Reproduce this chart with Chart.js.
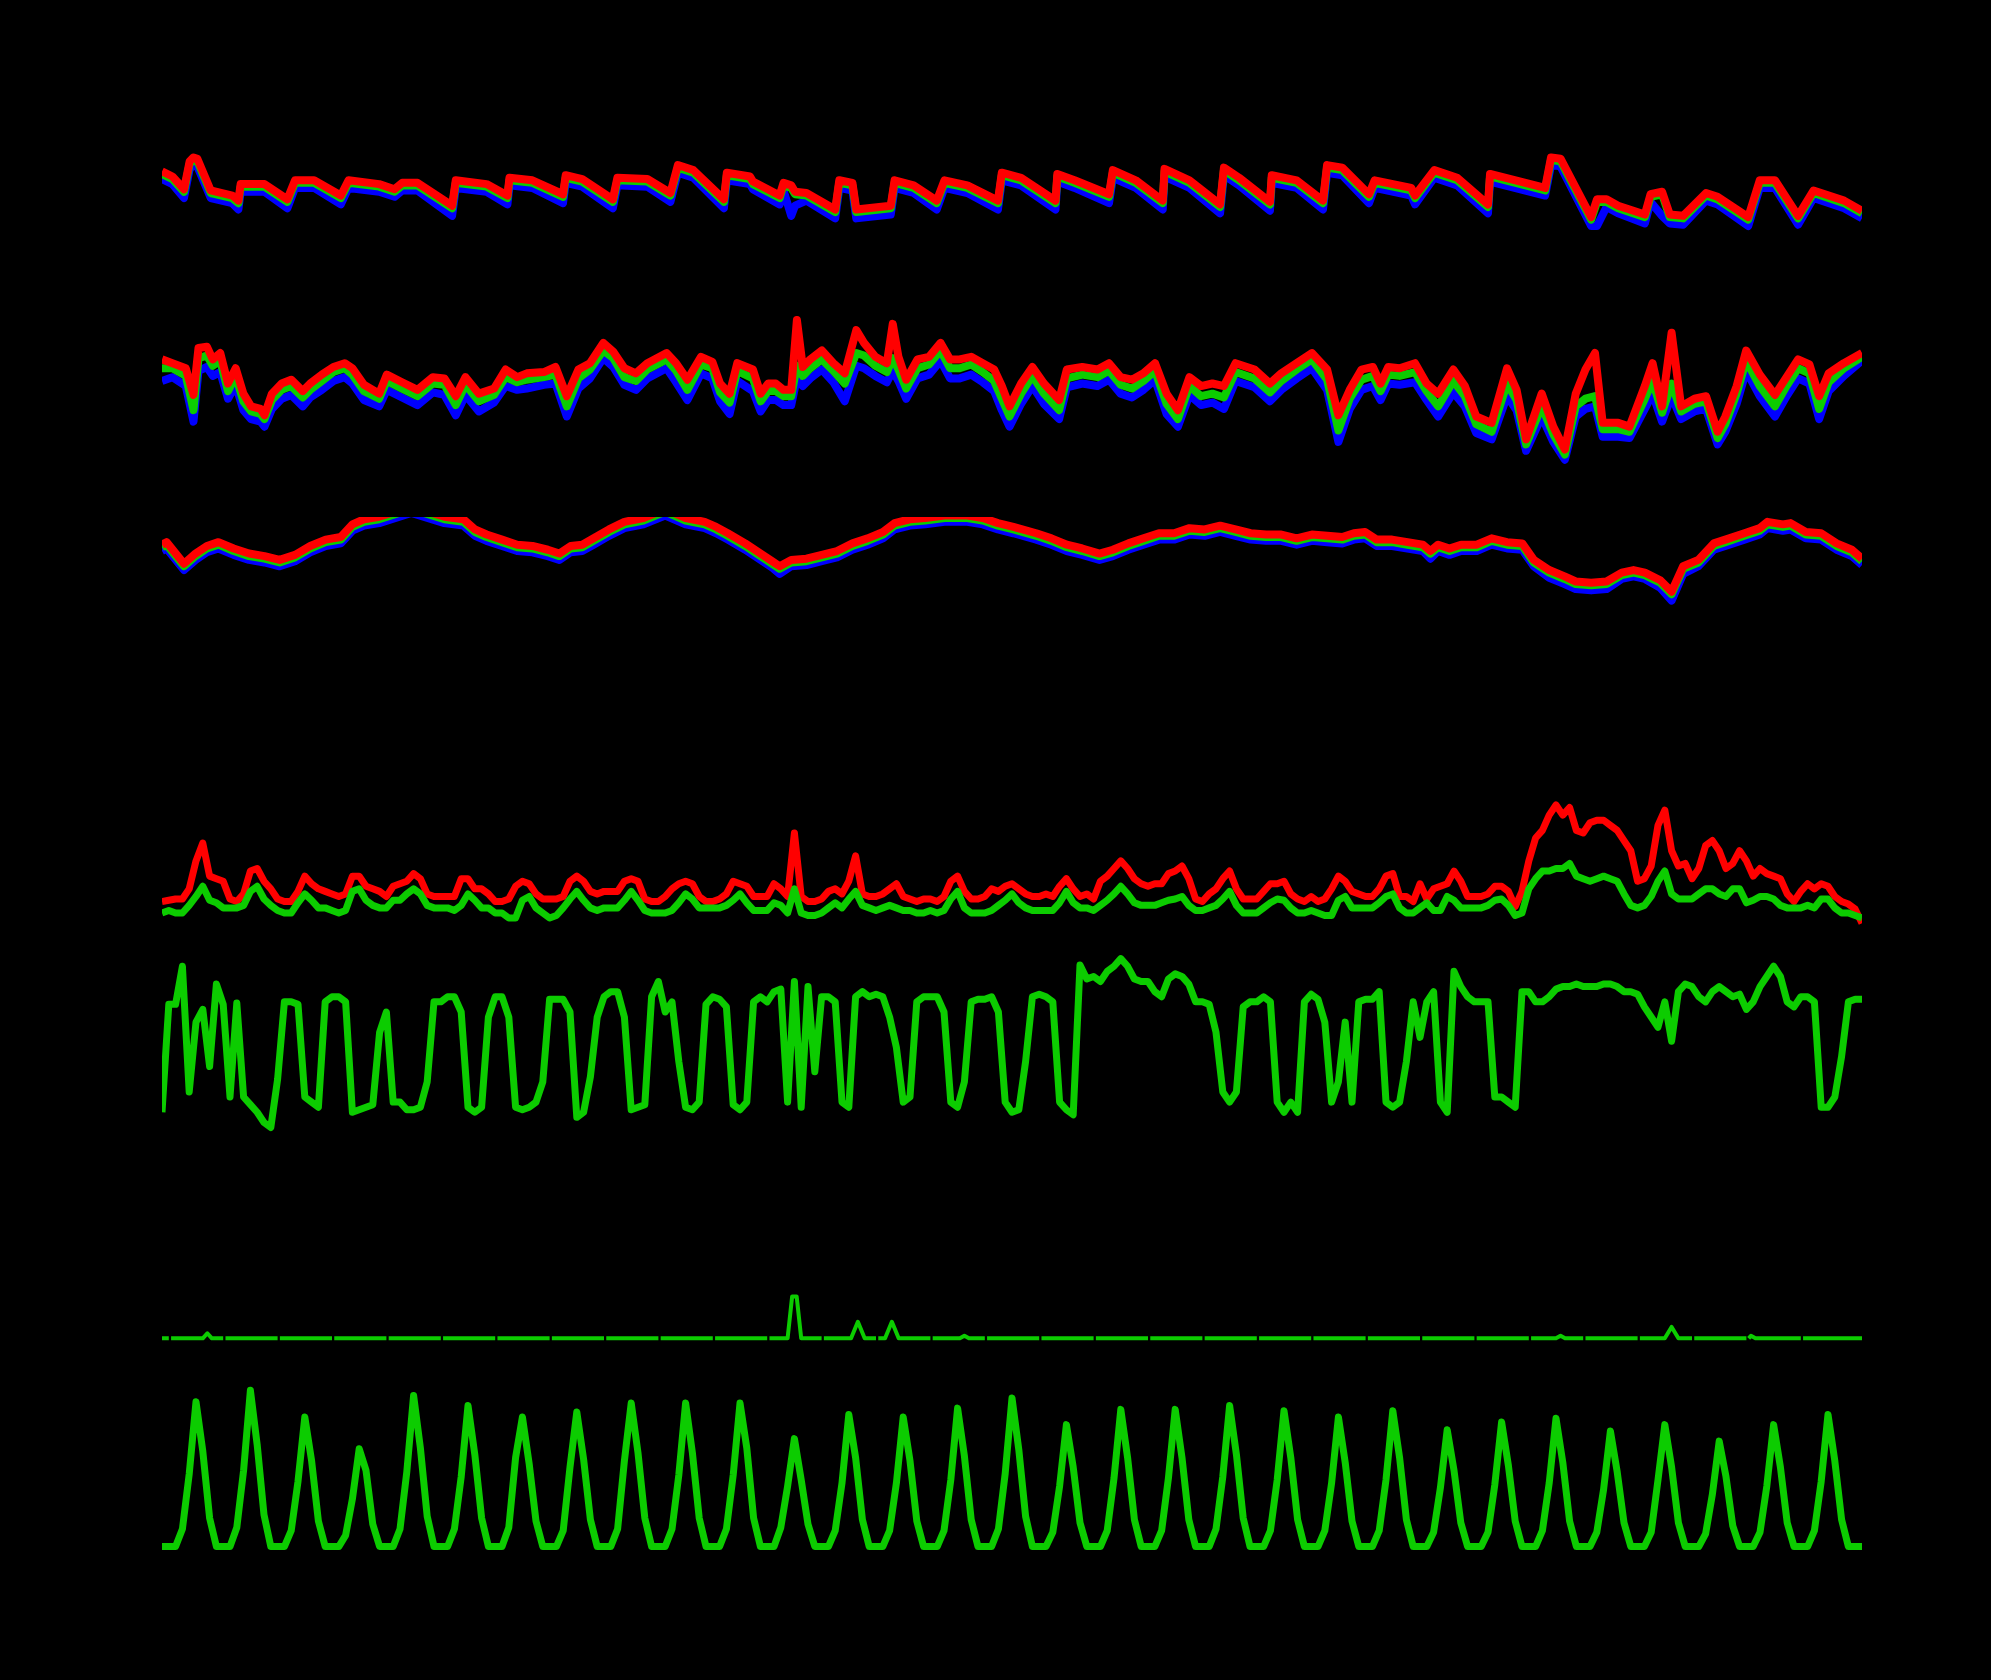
<!DOCTYPE html>
<html>
<head>
<meta charset="utf-8">
<title>Station record</title>
<script src="https://cdn.jsdelivr.net/npm/chart.js@4.4.0/dist/chart.umd.min.js"></script>
<style>
  html, body { margin: 0; padding: 0; background: #000; }
  #page { position: relative; width: 1991px; height: 1680px; background: #000; overflow: hidden; }
  #page canvas { position: absolute; }
</style>
</head>
<body>
<div id="page"></div>
<script>
/* ── Time axis (hours since start of record) ── */
const HOURS_SPAN = 750;
const hours3 = Array.from({ length: 251 }, (_, i) => i * 3);

/* ── Panel 1: three sensors, read at turning points ── */
const p1Hours = [
  0,4.6,9.7,12.2,13.9,15.6,21.5,31,33.7,34.7,45.2,55.3,58.7,67.1,78.9,82.3,95.8,102.6,106,112.7,
  128,129.6,143.2,152.4,153.3,163.4,176.9,178.1,185.4,198.9,200.9,214.1,224.3,227.6,234.4,247.9,249.2,259.4,
  260.7,272.5,274.2,277.6,279.3,284.3,297,298.8,304.6,306.3,321.5,323.2,331.6,341.8,345.2,355.3,368.8,370.5,379,394.2,
  395,402.6,417.8,419.5,429.6,441.5,442.3,453.3,466.8,468.5,475.2,488.8,489.6,500.6,
  512.2,514,520.7,532.5,535,551.1,552.8,561.3,571.4,585,585.9,610.2,612.8,617,630.5,633.1,637.3,642.4,654.2,656.7,
  661.8,665.2,671.1,681.2,686.3,699.8,704.9,711.6,721.8,728.6,742.1,750
];
const p1Red = [
  65,61,51,73,76,75,50,46,42,55,55,43,58,58,46,58,55,51,56,56,
  38,58,55,46,60,58,47,62,59,43,60,59,48,70,66,43,64,61,
  57,46,56,54,49,48,35,58,56,35,38,58,54,42,58,54,42,64,60,42,
  63,58,47,66,58,42,67,58,39,68,60,41,62,58,
  42,70,68,47,58,52,46,66,60,39,63,52,76,75,29,43,43,38,31,47,
  49,31,30,48,45,29,58,58,30,50,42,34
];
const p1Green = [
  63,59,49,71,74,73,48,44,40,53,53,41,56,56,44,56,53,49,54,54,
  36,56,53,44,58,56,45,60,57,41,58,57,46,68,64,41,62,59,
  55,44,54,52,47,46,33,56,54,33,36,56,52,40,56,52,40,62,58,40,
  61,56,45,64,56,40,65,56,37,66,58,39,60,56,
  40,68,66,45,56,50,44,64,58,37,61,50,74,73,27,41,41,36,29,45,
  47,29,28,46,43,27,56,56,28,48,40,32
];
const p1Blue = [
  59,55,44,67,70,69,44,40,35,49,49,36,52,52,39,52,49,45,50,50,
  30,52,49,39,54,52,40,56,53,36,54,53,41,64,60,36,58,55,
  51,39,50,30,38,42,28,52,50,28,31,52,48,35,52,48,35,58,54,35,
  57,52,40,60,52,35,61,52,32,62,54,34,56,52,
  35,64,62,40,52,46,39,60,54,32,57,46,70,69,22,22,37,32,24,41,
  30,24,23,42,39,22,52,52,23,44,36,28
];

/* ── Panel 2: three sensors, read at turning points ── */
const p2Hours = [
  0,4.6,10.5,13.9,16.1,19.8,22.4,25.7,29.1,32.5,35.9,39.3,43.5,45.2,48.5,52.8,57,62.1,65.4,70.5,
  75.6,80.6,84,89.1,95.8,99.2,105.9,112.7,119.5,124.6,129.6,133.9,139.8,146.5,151.6,156.7,160.9,168.5,173.6,178.6,
  183.7,188.8,194.7,199.1,204,209.1,214.1,222.6,226.8,231.8,237.8,242.8,246.2,250.4,253.8,
  260.7,264.1,267.4,270.8,274.2,277.6,280.1,282.7,286,291.1,296.2,301.2,306.3,309.7,314.7,319.8,322.4,324.9,328.3,333.3,
  338.4,343.5,347.7,351.9,357,362.1,367.1,370.5,373.9,379,384,389.1,395.8,399.2,406,412.7,417.8,422.9,427.9,433,
  438.1,443.2,448.2,453.3,458.4,463.4,468.5,473.6,482,488.8,493.8,500.6,507.3,
  514,519,524,529.2,534.2,537.6,541,546,552.8,557.9,563,569.7,574.8,579.8,586.6,593.4,597.6,601.8,608.7,613.8,
  618.9,623.7,628,632.2,635.6,642.4,647.4,654.2,657.6,661.8,666,670.2,676.1,681.2,686.3,689.7,694.7,698.9,704.9,711.6,
  716.7,721.8,726.8,731.1,735.3,742,750
];
const p2Red = [
  117,114,110,89,126,127,117,122,98,110,90,80,78,73,90,98,101,92,98,105,
  111,114,110,97,90,105,99,93,103,102,88,103,90,94,109,103,106,107,111,88,
  109,114,130,123,110,106,114,122,114,101,119,115,98,90,114,
  109,90,98,98,93,93,148,111,117,124,114,106,140,130,119,114,145,119,101,117,
  119,130,117,117,119,114,109,96,80,98,111,98,85,109,111,109,114,103,101,106,
  114,90,77,103,96,98,96,114,109,98,106,114,122,
  109,73,93,109,111,98,111,110,114,98,90,109,96,72,67,110,93,54,90,64,
  46,90,109,122,67,67,64,96,114,80,138,80,86,88,60,72,96,124,105,89,
  103,117,113,88,106,114,122
];
const p2Green = [
  110,110,104,77,118,120,112,116,92,104,84,76,74,70,85,93,96,87,93,100,
  107,110,105,92,86,100,94,88,98,97,81,97,84,89,103,99,101,103,105,80,
  102,109,124,118,103,100,109,117,108,93,113,110,91,83,108,
  102,84,92,92,88,88,112,104,110,117,108,98,122,120,112,107,118,109,94,110,
  113,124,110,110,113,107,100,86,72,90,104,90,77,102,105,103,108,97,94,100,
  108,82,70,96,88,90,87,107,102,91,100,109,117,
  101,61,86,101,104,92,105,104,107,92,80,100,88,66,60,98,85,50,80,58,
  42,80,86,88,62,62,60,86,100,75,98,76,82,84,55,66,90,116,96,80,
  96,110,106,78,99,110,119
];
const p2Blue = [
  100,103,96,68,108,111,104,107,86,97,77,70,68,64,78,86,89,80,87,93,
  100,103,98,85,80,93,87,81,91,89,73,89,76,83,96,93,94,97,98,72,
  94,102,118,111,97,93,102,110,99,85,106,102,84,74,100,
  92,76,85,85,81,81,102,96,102,109,99,84,112,110,104,99,108,100,86,102,
  105,116,102,102,105,99,92,77,64,82,96,82,70,95,98,96,101,90,87,93,
  101,74,64,89,81,83,78,100,95,84,93,102,110,
  93,52,78,93,96,85,98,97,99,85,72,91,80,59,54,88,77,45,72,52,
  38,72,78,80,56,56,55,78,90,68,88,70,76,78,50,60,82,108,88,72,
  88,102,98,70,92,104,116
];

/* ── Panel 3: three sensors, runs off the top of its axis twice ── */
const p3Hours = [
  0,2,9.7,14.8,19.8,24.9,31.6,38.4,45.2,51.9,58.7,65.4,72.2,78.9,84,89.1,95.8,110,124.6,133,
  138.1,143.2,150,156.7,163.4,170.2,175.3,180.3,185.4,190.4,197.2,204,212.4,222,231,239.4,244.5,249.6,257.3,264.1,
  269.1,272.5,277.6,284.3,291.1,297.8,304.6,311.3,318.1,323.2,329.9,336.7,345.2,355.3,362.1,368.8,375.6,385.7,392.4,399.2,
  406,413.6,419.5,426.3,433,439.8,446.5,453.3,460,466.8,473.6,480.3,487.1,493.8,500.6,507.3,514.1,520.7,525.8,530.8,
  535.9,542.7,549.5,556.2,559.6,563,568,573.1,580,586.6,593.4,600.1,605.2,612,618.8,623.7,630.5,637.3,644,649.2,
  654.2,661,666,671.1,677.8,684.6,691.4,698.1,704.9,708.3,715.1,718.5,725.2,732,738.8,745.5,750
];
const p3Red = [
  71,73,56,64,70,73,68,64,62,59,63,70,75,77,87,91,93,101,93,91,
  83,79,75,71,70,67,64,70,71,76,83,89,92,99,92,89,85,80,72,64,
  58,54,59,60,63,66,72,76,81,88,91,92,94,94,92,88,85,80,76,71,
  68,64,67,72,76,80,80,84,83,86,83,80,79,79,76,79,78,77,80,81,
  75,75,73,71,66,71,68,71,71,76,73,72,59,51,46,42,41,42,49,51,
  49,43,34,54,59,72,76,80,84,89,87,88,81,80,72,67,60
];
const p3Green = [
  69,71,54,62,68,71,66,62,60,57,61,68,73,75,85,89,91,99,91,89,
  81,77,73,69,68,65,62,68,69,74,81,87,90,97,90,87,83,78,70,62,
  56,52,57,58,61,64,70,74,79,86,89,90,92,92,90,86,83,78,74,69,
  66,62,65,70,74,78,78,82,81,84,81,78,77,77,74,77,76,75,78,79,
  73,73,71,69,64,69,66,69,69,74,71,70,57,49,44,40,39,40,47,49,
  47,41,32,52,57,70,74,78,82,87,85,86,79,78,70,65,58
];
const p3Blue = [
  66,68,51,59,65,68,63,59,57,54,58,65,70,72,82,86,88,96,88,86,
  78,74,70,66,65,62,59,65,66,71,78,84,87,94,87,84,80,75,67,59,
  53,48,54,55,58,61,67,71,76,83,86,87,89,89,87,83,80,75,71,66,
  63,59,62,67,71,75,75,79,78,81,78,75,74,74,71,74,73,72,75,76,
  70,70,68,66,60,66,63,66,66,71,68,67,54,45,40,36,35,36,44,46,
  44,37,27,48,54,67,71,75,79,84,82,83,76,75,67,62,55
];

/* ── Panel 4: gust (red) and mean (green), 3-hourly, one row per day ── */
const p4Gust = [
  25,26,27,27,35,57,71,45,  43,41,27,25,31,49,51,41,  35,27,25,25,33,45,39,35,  33,31,29,31,45,45,37,35,
  33,29,37,39,41,47,43,31,  29,29,29,29,43,43,35,35,  31,25,25,27,37,41,39,31,  27,27,27,29,41,45,41,33,
  31,33,33,33,41,43,41,27,  25,25,29,35,39,41,39,29,  25,25,27,31,41,39,37,29,  29,29,39,35,29,79,29,25,
  25,27,33,35,31,41,61,31,  29,29,31,35,39,29,27,25,  27,27,25,29,41,45,33,27,  27,29,35,33,37,39,35,31,
  29,29,31,29,37,43,35,29,  31,27,41,45,51,57,51,43,  39,37,39,39,47,49,53,43,  27,25,31,35,43,49,35,27,
  27,27,33,39,39,41,31,27,  25,29,25,27,35,45,41,33,  31,29,29,35,45,47,29,29,  25,39,27,35,37,39,49,41,
  29,29,29,31,37,37,33,21,  33,57,75,81,93,101,93,99, 81,79,87,89,89,85,81,73,  65,41,43,53,85,97,65,53,
  55,43,51,69,73,65,51,55,  65,57,45,51,47,45,43,31,  25,33,39,35,39,37,29,25,
  23,19,8
];
const p4Mean = [
  16,18,16,16,22,29,37,26,  24,20,20,20,22,33,37,27,  22,18,16,16,24,31,26,20,  20,18,16,18,33,35,26,22,
  20,20,26,26,31,35,31,22,  20,20,20,18,22,31,26,20,  20,16,16,12,12,26,29,20,  16,12,14,20,27,33,26,20,
  18,20,20,20,26,33,26,18,  16,16,16,18,24,31,27,20,  20,20,20,22,26,31,24,18,  18,18,24,22,16,35,16,14,
  14,16,20,24,20,27,33,22,  20,18,20,22,20,18,18,16,  16,18,16,18,27,33,20,16,  16,16,18,22,26,31,24,20,
  18,18,18,18,24,33,24,20,  20,18,22,26,31,37,31,24,  22,22,22,24,26,27,29,22,  18,18,20,22,27,33,22,16,
  16,16,20,24,27,26,20,16,  16,18,16,14,14,26,29,20,  20,20,20,24,29,31,20,16,  16,20,24,18,18,29,26,20,
  20,20,20,22,26,27,22,14,  16,35,43,49,49,51,51,55,  45,43,41,43,45,43,41,31,  22,20,22,29,41,49,31,27,
  27,27,31,35,35,31,29,35,  35,24,26,29,29,27,22,20,  20,20,22,20,27,27,20,16,
  16,14,12
];

/* ── Panel 5: day/night switching quantity, 3-hourly ── */
const p5Values = [
  24,109,109,139,40,95,105,60,      125,109,36,110,36,30,24,16,     12,50,111,111,109,36,32,28,     111,115,115,111,24,26,28,30,
  87,103,32,32,26,26,28,48,        111,111,115,115,103,28,24,28,   99,115,115,99,28,26,28,32,      48,113,113,113,103,20,24,52,
  99,115,119,119,99,26,28,30,      115,127,103,111,64,28,26,32,    109,115,113,107,30,26,32,111,   115,111,119,121,32,127,28,123,
  56,115,115,111,32,28,115,119,    115,117,115,99,75,32,36,111,    115,115,115,103,32,28,48,111,   113,113,115,103,32,24,26,64,
  115,117,115,111,32,26,22,140,    129,131,127,135,139,145,139,129, 127,127,119,115,129,133,131,125, 111,111,109,87,40,32,40,107,
  111,111,115,111,32,24,32,24,     111,117,113,95,32,48,95,32,     111,113,113,119,32,28,32,64,    111,83,111,119,32,24,135,123,
  115,111,111,111,36,36,32,28,     119,119,111,111,115,121,123,123, 125,123,123,123,125,125,123,119, 119,117,107,99,91,111,80,119,
  125,123,115,111,119,123,119,115, 117,105,111,123,131,139,131,111, 107,115,115,111,28,28,36,68,
  111,113,113
];

/* ── Panel 6: rain (mm), logger drops one reading each day ── */
const rainHours = [
  0,3,3.5,
  4,18,20,22,27,27.5,
  28,51,51.5,   52,75,75.5,   76,99,99.5,   100,123,123.5, 124,147,147.5,
  148,171,171.5, 172,195,195.5, 196,219,219.5, 220,243,243.5, 244,267,267.5,
  268,276,278,280,282,291,291.5,
  292,304,307,310,315,315.5,
  316,319,322,325,339,339.5,
  340,352,354,356,363,363.5,
  364,387,387.5, 388,411,411.5, 412,435,435.5, 436,459,459.5, 460,483,483.5,
  484,507,507.5, 508,531,531.5, 532,555,555.5, 556,579,579.5, 580,603,603.5,
  604,615,617,619,627,627.5,
  628,651,651.5,
  652,663,666,669,675,675.5,
  676,699,699.5,
  700,701,703,723,723.5,
  724,750
];
const rainMm = [
  0,0,null,
  0,0,0.4,0,0,null,
  0,0,null,     0,0,null,     0,0,null,     0,0,null,      0,0,null,
  0,0,null,     0,0,null,     0,0,null,     0,0,null,      0,0,null,
  0,0,3.3,3.3,0,0,null,
  0,0,1.3,0,0,null,
  0,0,1.3,0,0,null,
  0,0,0.2,0,0,null,
  0,0,null,     0,0,null,     0,0,null,     0,0,null,      0,0,null,
  0,0,null,     0,0,null,     0,0,null,     0,0,null,      0,0,null,
  0,0,0.2,0,0,null,
  0,0,null,
  0,0,0.9,0,0,null,
  0,0,null,
  0,0.2,0,0,null,
  0,0
];

/* ── Panel 7: solar radiation (W/m²), 3-hourly, one row per day ── */
const solarWm2 = [
  0,0,0,110,456,912,600,180,  0,0,0,120,480,984,640,200,  0,0,0,100,410,816,540,160,  0,0,0,70,300,616,480,140,
  0,0,0,110,470,952,620,190,  0,0,0,110,440,888,580,180,  0,0,0,120,560,816,520,160,  0,0,0,100,500,848,550,170,
  0,0,0,110,540,904,590,180,  0,0,0,110,450,904,590,180,  0,0,0,110,450,904,620,180,  0,0,0,120,380,680,420,140,
  0,0,0,100,400,832,560,170,  0,0,0,100,400,816,540,160,  0,0,0,100,420,872,570,170,  0,0,0,110,460,936,610,190,
  0,0,0,90,380,768,500,150,   0,0,0,100,430,864,560,170,  0,0,0,100,430,864,560,170,  0,0,0,110,440,888,580,180,
  0,0,0,100,420,856,560,170,  0,0,0,100,400,816,530,160,  0,0,0,100,420,856,560,170,  0,0,0,90,370,736,480,150,
  0,0,0,90,390,784,510,160,   0,0,0,100,400,808,530,160,  0,0,0,90,360,728,470,150,   0,0,0,90,420,768,500,150,
  0,0,0,80,330,664,440,130,   0,0,0,90,380,768,500,150,   0,0,0,100,410,832,540,170,
  0,0,0
];

/* ── Styling ── */
const RED   = '#ff0000';
const GREEN = 'rgb(12,204,0)';
const BLUE  = '#0000ff';
const PLOT_LEFT  = 162;
const PLOT_WIDTH = 1700;

const page = document.getElementById('page');

function series(hours, values) {
  return hours.map((h, i) => ({ x: h, y: values[i] }));
}

function line(label, hours, values, color, width = 7, extra = {}) {
  return Object.assign({
    label,
    data: series(hours, values),
    borderColor: color,
    borderWidth: width,
    borderJoinStyle: 'round',
    pointRadius: 0,
    tension: 0,
    fill: false,
    spanGaps: false
  }, extra);
}

// one stacked strip per measured quantity; axes are not drawn
function addPanel(top, height, yMin, yMax, datasets) {
  const canvas = document.createElement('canvas');
  canvas.width  = PLOT_WIDTH;
  canvas.height = height;
  canvas.style.left   = PLOT_LEFT + 'px';
  canvas.style.top    = top + 'px';
  canvas.style.width  = PLOT_WIDTH + 'px';
  canvas.style.height = height + 'px';
  page.appendChild(canvas);

  return new Chart(canvas, {
    type: 'line',
    data: { datasets },
    options: {
      responsive: false,
      animation: false,
      devicePixelRatio: 1,
      layout: { padding: 0 },
      plugins: { legend: { display: false }, tooltip: { enabled: false } },
      scales: {
        x: { type: 'linear', min: 0, max: HOURS_SPAN, display: false },
        y: { min: yMin, max: yMax, display: false }
      }
    }
  });
}

/* first dataset is painted last (on top) */
addPanel(127, 133, -4.8, 100, [
  line('sensor A', p1Hours, p1Red, RED, 8),
  line('sensor B', p1Hours, p1Green, GREEN, 8),
  line('sensor C', p1Hours, p1Blue, BLUE, 8)
]);

addPanel(286, 203, 14.9, 174.8, [
  line('sensor A', p2Hours, p2Red, RED, 8),
  line('sensor B', p2Hours, p2Green, GREEN, 8),
  line('sensor C', p2Hours, p2Blue, BLUE, 8)
]);

const cutTop = { clip: { left: 4, top: 0, right: 4, bottom: 4 } };
addPanel(517, 105, 10.1, 92.8, [
  line('sensor A', p3Hours, p3Red, RED, 8, cutTop),
  line('sensor B', p3Hours, p3Green, GREEN, 8, cutTop),
  line('sensor C', p3Hours, p3Blue, BLUE, 8, cutTop)
]);

addPanel(781, 165, -10, 119.9, [
  line('mean', hours3, p4Mean, GREEN),
  line('gust', hours3, p4Gust, RED)
]);

addPanel(940, 203, -0.2, 159.7, [
  line('direction', hours3, p5Values, GREEN)
]);

addPanel(1285, 64, -0.84, 4.2, [
  line('rain', rainHours, rainMm, GREEN, 4)
]);

addPanel(1369, 190, -78.4, 1118.4, [
  line('solar', hours3, solarWm2, GREEN)
]);
</script>
</body>
</html>
